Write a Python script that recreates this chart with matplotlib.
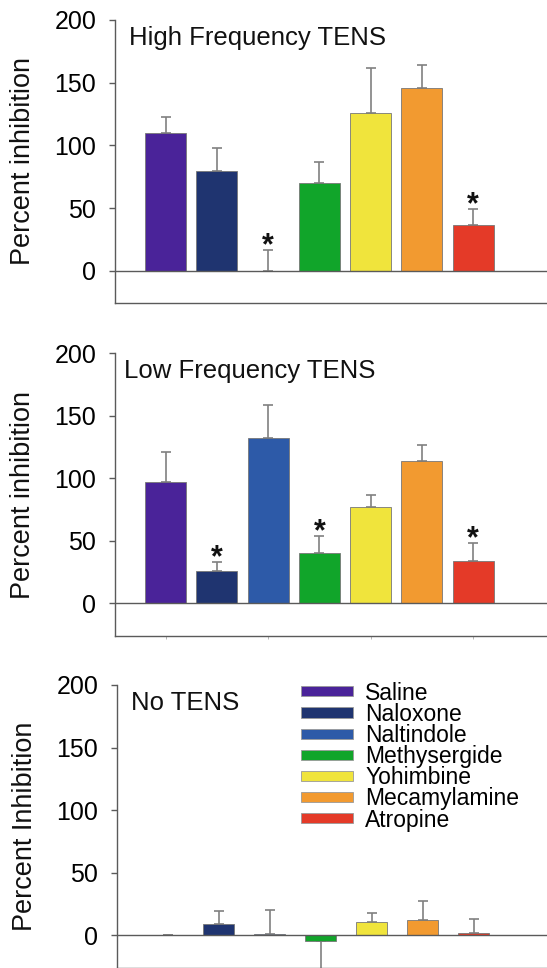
import matplotlib
matplotlib.use("Agg")
import matplotlib.pyplot as plt
from matplotlib.patches import Patch
import numpy as np

plt.rcParams['font.family'] = ['Liberation Sans', 'DejaVu Sans']

drugs = ["Saline", "Naloxone", "Naltindole", "Methysergide", "Yohimbine", "Mecamylamine", "Atropine"]
colors = ["#4A2399", "#1F3470", "#2D5AA8", "#11A52A", "#F0E43C", "#F29A30", "#E43A28"]

panel_titles = ["High Frequency TENS", "Low Frequency TENS", "No TENS"]
ylabels = ["Percent inhibition", "Percent inhibition", "Percent Inhibition"]

high_vals = [110, 80, 0, 70, 126, 146, 37]
high_err = [13, 18, 16.5, 17, 36, 18, 12]
high_sig = [False, False, True, False, False, False, True]

low_vals = [97, 26, 132, 40, 77, 114, 34]
low_err = [24, 7, 27, 14, 10, 13, 14]
low_sig = [False, True, False, True, False, False, True]

none_vals = [0.5, 9, 1, -4.5, 10.6, 12.7, 1.9]
none_err = [0, 10.5, 19.5, 26, 7.5, 15, 11]
none_sig = [False] * 7

yticks = [0, 50, 100, 150, 200]

fig = plt.figure(figsize=(5.47, 9.68), dpi=100)

panels = [
    (high_vals, high_err, high_sig, [0.2102, 0.687, 0.7898, 0.2924], (-25.5, 200), 0.8, (0.032, 0.912)),
    (low_vals, low_err, low_sig, [0.2102, 0.3433, 0.7898, 0.2917], (-26, 200), 0.8, (0.021, 0.911)),
    (none_vals, none_err, none_sig, [0.2139, 0.0, 0.7861, 0.2924], (-26, 200), 0.6, (0.033, 0.912)),
]

spine_col = "#5a5a5a"
for i, (vals, errs, sig, rect, ylim, width, tpos) in enumerate(panels):
    ax = fig.add_axes(rect)
    x = np.arange(len(drugs))
    vals = np.array(vals, dtype=float)
    errs = np.array(errs, dtype=float)
    ax.bar(x, vals, width=width, color=colors, edgecolor="#777777", linewidth=0.6, zorder=2)
    lower = np.where(vals < 0, errs, 0)
    upper = np.where(vals >= 0, errs, 0)
    ax.errorbar(x, vals, yerr=[lower, upper], fmt="none", ecolor="#808080",
                elinewidth=1.2, capsize=3.6, capthick=1.2, zorder=1)
    ax.axhline(0, color=spine_col, lw=1.0, zorder=3)
    for xi, v, e, s in zip(x, vals, errs, sig):
        if s:
            ax.annotate("*", xy=(xi, v + e), xytext=(0, -3), textcoords="offset points",
                        ha="center", va="baseline", fontsize=22, fontweight="bold", color="#111111")
    ax.set_xlim(-0.99, 7.44)
    ax.set_ylim(*ylim)
    ax.set_yticks(yticks)
    ax.tick_params(axis="y", labelsize=18, length=4, width=1, color=spine_col, pad=9.5, direction="out")
    if i == 1:
        ax.set_xticks([0, 2, 4, 6])
        ax.set_xticklabels([])
        ax.tick_params(axis="x", length=2.5, width=0.6, color="#aaaaaa", direction="out")
    else:
        ax.set_xticks([])
    for sp in ["top", "right"]:
        ax.spines[sp].set_visible(False)
    ax.spines["left"].set_color(spine_col)
    ax.spines["bottom"].set_color(spine_col)
    ax.spines["left"].set_linewidth(1.0)
    ax.spines["bottom"].set_linewidth(1.0)
    ax.spines["left"].set_bounds(ylim[0], 200)
    ax.set_ylabel(ylabels[i], fontsize=19.5, color="#111111")
    ax.yaxis.set_label_coords(-0.183, 0.5)
    ax.text(tpos[0], tpos[1], panel_titles[i], transform=ax.transAxes, fontsize=18.5,
            ha="left", va="baseline", color="#111111")
    if i == 2:
        handles = [Patch(facecolor=c, edgecolor="#999999", linewidth=0.6) for c in colors]
        ax.legend(handles, drugs, loc="upper left", bbox_to_anchor=(0.428, 1.012),
                  frameon=False, fontsize=16.5, handlelength=2.25, handleheight=0.3,
                  handletextpad=0.55, labelspacing=-0.08, borderpad=0, borderaxespad=0)

fig.savefig("out.png", dpi=100)
